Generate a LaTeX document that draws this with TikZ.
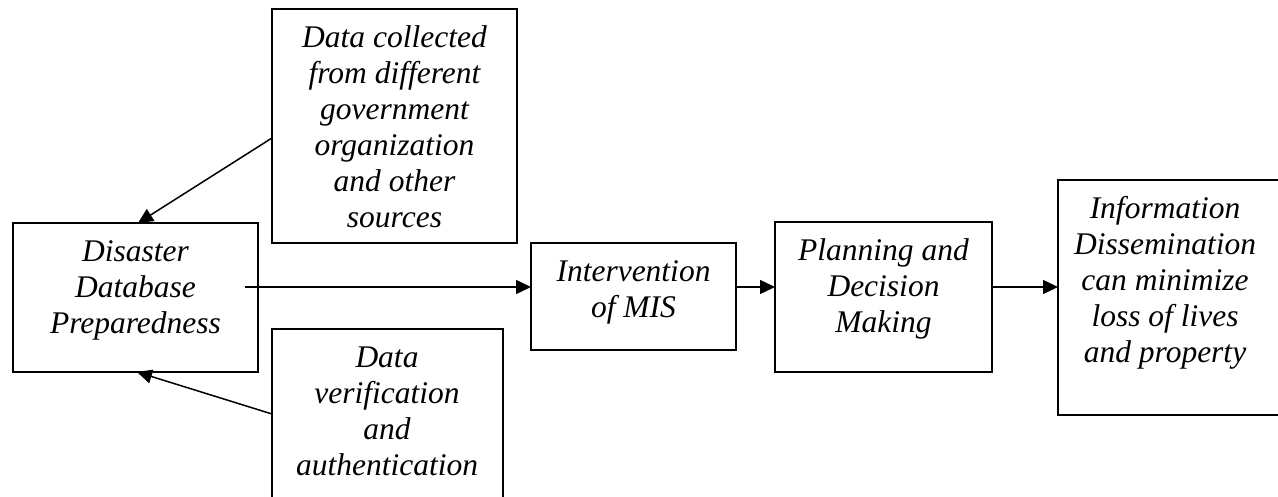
\documentclass[tikz,border=0pt]{standalone}
\usepackage{fontspec}
\setmainfont{Liberation Serif}
\usetikzlibrary{arrows.meta}
\newcommand\tstrut{\rule{0pt}{25pt}}
\begin{document}
\begin{tikzpicture}[x=1pt,y=-1pt,
  box/.style={draw,line width=1.6pt,rectangle,inner sep=0pt,outer sep=0pt,anchor=north west},
  txt/.style={anchor=north,inner sep=0pt,align=center,
    font=\itshape\fontsize{31.5}{36}\selectfont},
  arr/.style={line width=1.5pt,-{Triangle[length=15pt,width=14pt]}}]
\useasboundingbox (0,0) rectangle (1278,497);

% boxes
\node[box,minimum width=245pt,minimum height=149pt] (A) at (13,223) {};
\node[box,minimum width=245pt,minimum height=234pt] (T) at (272,9) {};
\node[box,minimum width=231pt,minimum height=200pt] (V) at (272,329) {};
\node[box,minimum width=205pt,minimum height=107pt] (B) at (531,243) {};
\node[box,minimum width=217pt,minimum height=150pt] (C) at (775,222) {};
\node[box,minimum width=400pt,minimum height=235pt] (D) at (1058,180) {};

% box texts
\node[txt] (At) at ([yshift=-13pt]A.north) {\tstrut Disaster\\Database\\Preparedness};
\node[txt] (Tt) at ([yshift=-13pt]T.north) {\tstrut Data collected\\from different\\government\\organization\\and other\\sources};
\node[txt] (Vt) at ([yshift=-13pt,xshift=-0.5pt]V.north) {\tstrut Data\\verification\\and\\authentication};
\node[txt] (Bt) at ([yshift=-13pt]B.north) {\tstrut Intervention\\of MIS};
\node[txt] (Ct) at ([yshift=-13pt]C.north) {\tstrut Planning and\\Decision\\Making};
\node[txt] (Dt) at ([xshift=107pt,yshift=-13pt]D.north west) {\tstrut Information\\Dissemination\\can minimize\\loss of lives\\and property};

% connectors
\coordinate (m0) at ([xshift=-13pt]A.east |- 0,287);
\draw[arr] ([yshift=-129pt]T.north west) -- ([xshift=125pt]A.north west);
\draw[arr] ([yshift=-85pt]V.north west) -- ([xshift=124pt]A.south west);
\draw[arr] (m0) -- (m0 -| B.west);
\draw[arr] (B.east |- m0) -- (C.west |- m0);
\draw[arr] (C.east |- m0) -- (D.west |- m0);
\end{tikzpicture}
\end{document}
